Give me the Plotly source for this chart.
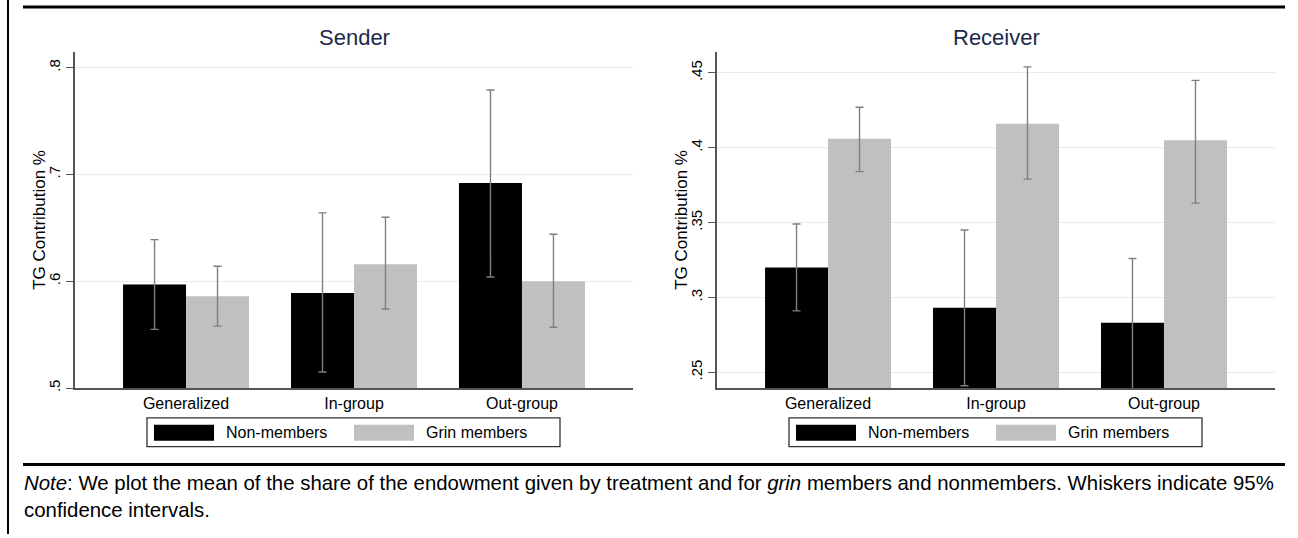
import plotly.graph_objects as go

# ---------------- data ----------------
categories = ["Generalized", "In-group", "Out-group"]

sender_non = [0.597, 0.589, 0.692]
sender_non_lo = [0.555, 0.515, 0.604]
sender_non_hi = [0.639, 0.664, 0.779]
sender_grin = [0.586, 0.616, 0.600]
sender_grin_lo = [0.558, 0.574, 0.557]
sender_grin_hi = [0.614, 0.660, 0.644]

receiver_non = [0.320, 0.293, 0.283]
receiver_non_lo = [0.291, 0.241, 0.237]
receiver_non_hi = [0.349, 0.345, 0.326]
receiver_grin = [0.406, 0.416, 0.405]
receiver_grin_lo = [0.384, 0.379, 0.363]
receiver_grin_hi = [0.427, 0.454, 0.445]

sender_ticks = [0.5, 0.6, 0.7, 0.8]
sender_ticktext = [".5", ".6", ".7", ".8"]
receiver_ticks = [0.25, 0.30, 0.35, 0.40, 0.45]
receiver_ticktext = [".25", ".3", ".35", ".4", ".45"]

series_names = ["Non-members", "Grin members"]
panel_titles = ["Sender", "Receiver"]
y_title = "TG Contribution %"
note_text = ("<i>Note</i>: We plot the mean of the share of the endowment given by treatment "
             "and for <i>grin</i> members and nonmembers. Whiskers indicate 95%"
             "<br>confidence intervals.")

# ---------------- style ----------------
W, H = 1298, 538
FONT = "Arial, Liberation Sans, Helvetica, sans-serif"
BLACK = "#000000"
GRAY = "#c0c0c0"
WHISKER = "#7f7f7f"
AXIS = "#555555"
GRID = "#e4edef"
TITLE_COLOR = "#1c2a4a"


def px(x):
    return x / W


def py(y):
    return 1 - y / H


def err(v, lo, hi):
    return dict(type="data", symmetric=False,
                array=[h - m for m, h in zip(v, hi)],
                arrayminus=[m - l for m, l in zip(v, lo)],
                color=WHISKER, thickness=1.4, width=4)


fig = go.Figure()

panels = [
    ("x", "y", sender_non, sender_non_lo, sender_non_hi,
     sender_grin, sender_grin_lo, sender_grin_hi),
    ("x2", "y2", receiver_non, receiver_non_lo, receiver_non_hi,
     receiver_grin, receiver_grin_lo, receiver_grin_hi),
]
for xa, ya, nv, nlo, nhi, gv, glo, ghi in panels:
    fig.add_trace(go.Bar(x=categories, y=nv, name=series_names[0], xaxis=xa, yaxis=ya,
                         marker=dict(color=BLACK, line=dict(width=0)),
                         error_y=err(nv, nlo, nhi), showlegend=False))
    fig.add_trace(go.Bar(x=categories, y=gv, name=series_names[1], xaxis=xa, yaxis=ya,
                         marker=dict(color=GRAY, line=dict(width=0)),
                         error_y=err(gv, glo, ghi), showlegend=False))

# axis geometry (pixels)
ax_left = [75, 717]
ax_right = [633, 1275]
ax_top, ax_bot = 52, 391
ydom = [py(ax_bot), py(ax_top)]

common_x = dict(type="category", range=[-0.661, 2.661], showline=True, linecolor=AXIS,
                linewidth=1.5, ticks="", showgrid=False, zeroline=False,
                tickfont=dict(family=FONT, size=16, color="#000"))
common_y = dict(showline=True, linecolor=AXIS, linewidth=1.5, ticks="outside",
                ticklen=7, tickwidth=1.2, tickcolor=AXIS, tickangle=-90,
                showgrid=True, gridcolor=GRID, gridwidth=1, zeroline=False,
                tickfont=dict(family=FONT, size=15, color="#000"))

fig.update_layout(
    width=W, height=H,
    margin=dict(l=0, r=0, t=0, b=0),
    paper_bgcolor="white", plot_bgcolor="white",
    barmode="group", bargap=0.25, bargroupgap=0,
    font=dict(family=FONT, color="#000"),
    xaxis=dict(domain=[px(ax_left[0]), px(ax_right[0])], anchor="y", **common_x),
    xaxis2=dict(domain=[px(ax_left[1]), px(ax_right[1])], anchor="y2", **common_x),
    yaxis=dict(domain=ydom, anchor="x", range=[0.5, 0.815],
               tickvals=sender_ticks, ticktext=sender_ticktext, **common_y),
    yaxis2=dict(domain=ydom, anchor="x2", range=[0.2394, 0.4642],
                tickvals=receiver_ticks, ticktext=receiver_ticktext, **common_y),
)

shapes = []
annotations = []

# frame lines
shapes.append(dict(type="line", xref="paper", yref="paper", x0=px(23), x1=px(1285),
                   y0=py(7), y1=py(7), line=dict(color="#000", width=3)))
shapes.append(dict(type="line", xref="paper", yref="paper", x0=px(23), x1=px(1285),
                   y0=py(468), y1=py(468), line=dict(color="#000", width=3)))
shapes.append(dict(type="line", xref="paper", yref="paper", x0=px(8), x1=px(8),
                   y0=0, y1=1, line=dict(color="#000", width=2)))

for i in range(2):
    x0 = ax_left[i]
    cx = (ax_left[i] + ax_right[i]) / 2
    # panel title
    annotations.append(dict(text=panel_titles[i], xref="paper", yref="paper",
                            x=px(cx), y=py(38), xanchor="center", yanchor="middle",
                            showarrow=False,
                            font=dict(family=FONT, size=22, color=TITLE_COLOR)))
    # y-axis title
    annotations.append(dict(text=y_title, xref="paper", yref="paper", textangle=-90,
                            x=px(x0 - 35), y=py((ax_top + ax_bot) / 2),
                            xanchor="center", yanchor="middle", showarrow=False,
                            font=dict(family=FONT, size=17, color="#000")))
    # legend box
    shapes.append(dict(type="rect", xref="paper", yref="paper",
                       x0=px(x0 + 72), x1=px(x0 + 485), y0=py(450), y1=py(421),
                       line=dict(color="#333", width=1.3), fillcolor="white"))
    shapes.append(dict(type="rect", xref="paper", yref="paper",
                       x0=px(x0 + 79), x1=px(x0 + 139), y0=py(444), y1=py(428),
                       line=dict(width=0), fillcolor=BLACK))
    shapes.append(dict(type="rect", xref="paper", yref="paper",
                       x0=px(x0 + 279), x1=px(x0 + 339), y0=py(444), y1=py(428),
                       line=dict(width=0), fillcolor=GRAY))
    annotations.append(dict(text=series_names[0], xref="paper", yref="paper",
                            x=px(x0 + 149), y=py(436), xanchor="left", yanchor="middle",
                            showarrow=False, font=dict(family=FONT, size=16, color="#000")))
    annotations.append(dict(text=series_names[1], xref="paper", yref="paper",
                            x=px(x0 + 349), y=py(436), xanchor="left", yanchor="middle",
                            showarrow=False, font=dict(family=FONT, size=16, color="#000")))

annotations.append(dict(text=note_text, xref="paper", yref="paper", x=px(22), y=py(500),
                        xanchor="left", yanchor="middle", align="left", showarrow=False,
                        font=dict(family=FONT, size=20.4, color="#000")))

fig.update_layout(shapes=shapes, annotations=annotations)

fig.write_html("out.html", config={"displayModeBar": False},
               post_script="document.body.style.margin='0';")
